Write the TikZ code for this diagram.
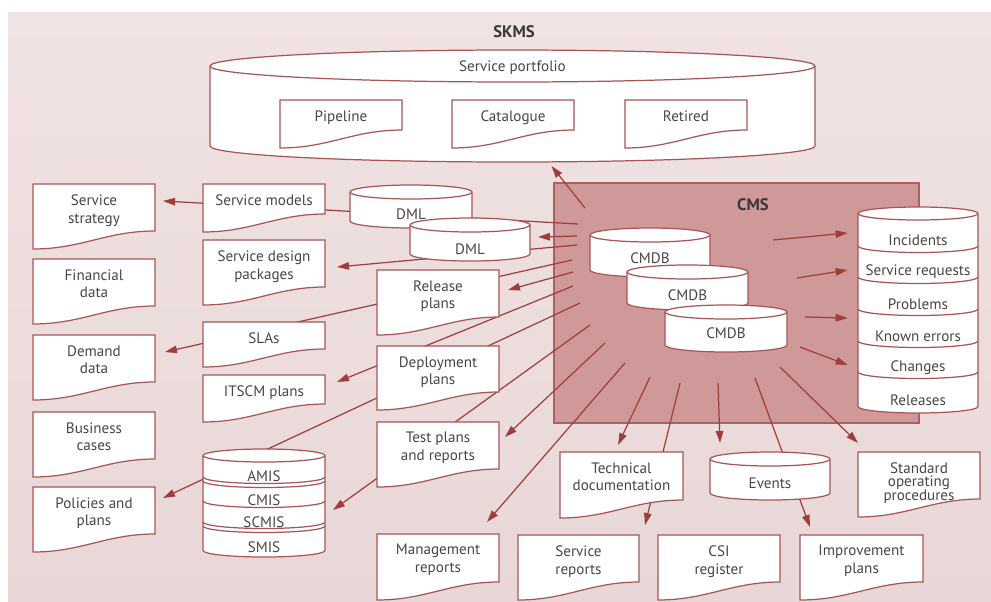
\documentclass[tikz,border=0pt]{standalone}
\usepackage{fontspec}
\setmainfont{PT Sans}
\usepackage{tikz}
\usetikzlibrary{arrows.meta,calc}

\definecolor{skmsbg}{RGB}{233,215,215}
\definecolor{skmstop}{RGB}{240,227,227}
\definecolor{cmsfill}{RGB}{207,153,153}
\definecolor{cmsline}{RGB}{175,95,95}
\definecolor{boxred}{RGB}{170,85,85}
\definecolor{wirered}{RGB}{160,62,62}
\definecolor{txtgray}{RGB}{75,68,68}

\pgfdeclarelayer{bg}
\pgfdeclarelayer{wires}
\pgfsetlayers{bg,wires,main}

\tikzset{
  boxline/.style={draw=boxred, fill=white, line width=0.7pt},
  hold/.style={inner sep=0pt, outer sep=0pt},
  lbl/.style={text=txtgray, font=\fontsize{8.6}{10.2}\selectfont, align=center, inner sep=0pt},
  head/.style={text=txtgray!80!black, font=\fontsize{9.5}{11}\selectfont\bfseries, inner sep=0pt},
  wire/.style={draw=wirered, line width=0.7pt},
  arr/.style={wire, -{Triangle[length=2.4mm,width=1.5mm]}},
}

% document shape: name, x0, y0, w, h, text
\newcommand{\docbox}[6]{%
  \filldraw[boxline] (#2,#3) -- ++(#4,0) -- ++(0,{#5-18})
    .. controls +({-0.4*#4},0) and +({0.4*#4},0) .. (#2,{#3+#5}) -- cycle;
  \node[hold, minimum width=#4*0.02cm, minimum height=#5*0.02cm, anchor=north west] (#1) at (#2,#3) {};
  \node[lbl, anchor=north] (#1-t) at ($(#1.north)+(0,10)$) {#6};
}
% cylinder body: name, x0, ytop, w, h, ry
\newcommand{\cylbody}[6]{%
  \filldraw[boxline] (#2,{#3+#6}) -- (#2,{#3+#5-#6})
    arc[start angle=180, end angle=0, x radius={#4/2}, y radius=#6]
    -- ({#2+#4},{#3+#6})
    arc[start angle=0, end angle=-180, x radius={#4/2}, y radius=#6] -- cycle;
  \draw[boxline, fill=none] (#2,{#3+#6}) arc[start angle=180, end angle=0, x radius={#4/2}, y radius=#6];
  \node[hold, minimum width=#4*0.02cm, minimum height=#5*0.02cm, anchor=north west] (#1) at (#2,#3) {};
}
% cylinder with text: name, x0, ytop, w, h, ry, text y, text
\newcommand{\cyl}[8]{%
  \cylbody{#1}{#2}{#3}{#4}{#5}{#6}
  \node[lbl] (#1-t) at ({#2+#4/2},#7) {#8};
}
% divider of a stack: x0, y, w, ry
\newcommand{\stacksep}[4]{%
  \draw[boxline, fill=none] (#1,#2) arc[start angle=180, end angle=0, x radius={#3/2}, y radius=#4];
}

\begin{document}
\begin{tikzpicture}[x=0.02cm, y=-0.02cm]
\useasboundingbox (0,0) rectangle (991,602);

\begin{pgfonlayer}{bg}
  \node[hold, top color=skmstop, bottom color=skmsbg, minimum width=983*0.02cm, minimum height=590*0.02cm, anchor=north west] (skms) at (8,12) {};
  \node[hold, fill=cmsfill, draw=cmsline, line width=0.7pt, minimum width=365*0.02cm, minimum height=240*0.02cm, anchor=north west] (cms) at (554,183) {};
\end{pgfonlayer}
\node[head] (skms-t) at (514,32) {SKMS};
\node[head] (cms-t) at (753,205) {CMS};

% service portfolio
\cyl{portfolio}{210}{50}{605}{112}{16}{68}{Service portfolio}
\docbox{pipe}{280}{100}{122}{48}{Pipeline}
\docbox{cat}{452}{100}{122}{48}{Catalogue}
\docbox{retired}{625}{100}{122}{48}{Retired}

% left columns
\docbox{strat}{33}{184}{122}{65}{Service\\strategy}
\docbox{fin}{33}{259}{122}{65}{Financial\\data}
\docbox{demand}{33}{335}{122}{65}{Demand\\data}
\docbox{business}{33}{412}{122}{65}{Business\\cases}
\docbox{policies}{33}{487}{122}{65}{Policies and\\plans}

\docbox{smodels}{203}{184}{122}{48}{Service models}
\docbox{sdp}{203}{240}{122}{65}{Service design\\packages}
\docbox{slas}{203}{322}{122}{45}{SLAs}
\docbox{itscm}{203}{375}{122}{47}{ITSCM plans}

\cylbody{dml1}{350}{185}{122}{43}{7}
\cyl{dml2}{410}{218}{120}{43}{7}{249}{DML}
\node[lbl] (dml1-t) at (411,214) {DML};

\docbox{release}{377}{270}{122}{65}{Release\\plans}
\docbox{deploy}{377}{346}{122}{64}{Deployment\\plans}
\docbox{test}{377}{422}{122}{65}{Test plans\\and reports}
\docbox{mgmt}{377}{534}{122}{66}{Management\\reports}

% AMIS stack
\cylbody{mis}{203}{449}{122}{108}{6.5}
\stacksep{203}{477}{122}{6.5}
\stacksep{203}{481}{122}{6.5}
\stacksep{203}{501}{122}{6.5}
\stacksep{203}{522}{122}{6.5}
\stacksep{203}{526}{122}{6.5}
\node[lbl] (amis) at (264,476) {AMIS};
\node[lbl] (cmis) at (264,500) {CMIS};
\node[lbl] (scmis) at (264,522) {SCMIS};
\node[lbl] (smis) at (264,547) {SMIS};

% CMDBs
\cyl{cmdb1}{590}{228}{120}{49}{7}{258}{CMDB}
\cyl{cmdb2}{627}{265}{121}{45}{7}{295}{CMDB}
\cyl{cmdb3}{665}{305}{122}{47}{7}{333}{CMDB}

% records stack
\cylbody{recs}{858}{207}{120}{206}{6.5}
\foreach \y in {246,277,309,341,372}
  \stacksep{858}{\y}{120}{6.5};
\node[lbl, minimum width=120*0.02cm] (inc) at (918,240) {Incidents};
\node[lbl, minimum width=120*0.02cm] (sreq) at (918,272) {Service requests};
\node[lbl, minimum width=120*0.02cm] (prob) at (918,304) {Problems};
\node[lbl, minimum width=120*0.02cm] (kerr) at (918,336) {Known errors};
\node[lbl, minimum width=120*0.02cm] (chg) at (918,368) {Changes};
\node[lbl, minimum width=120*0.02cm] (rel) at (918,400) {Releases};

% bottom row
\docbox{techdoc}{560}{452}{123}{66}{Technical\\documentation}
\cyl{events}{710}{452}{120}{48}{7}{483}{Events}
\docbox{sop}{858}{452}{122}{65}{Standard\\[-2.5pt]operating\\[-2.5pt]procedures}
\docbox{sreports}{518}{535}{121}{65}{Service\\reports}
\docbox{csi}{658}{535}{122}{65}{CSI\\register}
\docbox{improve}{800}{535}{123}{65}{Improvement\\plans}

% fan of links out of the CMS
\foreach \n/\x/\y in {f1/585/208, f2/578/224, f3/577/236, f4/577/245, f5/572/260,
    f6/573/272, f7/573/286, f8/580/303, f9/590/325, f10/605/343, f11/625/363,
    f12/650/377, f13/680/383, f14/718/383, f15/755/378, f16/780/367,
    f17/773/240, f18/797/278, f19/805/317, f20/800/347}
  \coordinate (\n) at (\x,\y);

\begin{pgfonlayer}{wires}
  \draw[arr] (f1) -- ($(portfolio.south)+(39,4)$);
  \draw[arr] (f2) -- ($(strat.north east)+(8,17)$);
  \draw[arr] (f3) -- ($(dml2.east)+(8,-2.5)$);
  \draw[arr] (f4) -- ($(sdp.north east)+(12,27)$);
  \draw[arr] (f5) -- ($(demand.north east)+(10,17)$);
  \draw[arr] (f6) -- ($(release.north east)+(9,20)$);
  \draw[arr] (f7) -- ($(itscm.north east)+(12,7)$);
  \draw[arr] (f8) -- ($(policies.north east)+(8,11)$);
  \draw[arr] (f9) -- ($(mis.east)+(8,7)$);
  \draw[arr] (f10) -- ($(test.north east)+(6,15)$);
  \draw[arr] (f11) -- ($(mgmt.north east)+(-12,-12)$);
  \draw[arr] (f12) -- ($(techdoc.north)+(-3.5,-7)$);
  \draw[arr] (f13) -- ($(sreports.north east)+(6,-10)$);
  \draw[arr] (f14) -- ($(events.north west)+(10,-9)$);
  \draw[arr] (f15) -- ($(improve.north west)+(10,-8)$);
  \draw[arr] (f16) -- ($(sop.north west)+(0,-9)$);
  \draw[arr] (f17) -- ($(inc.west)+(-10,-7)$);
  \draw[arr] (f18) -- ($(sreq.west)+(-10,-2)$);
  \draw[arr] (f19) -- ($(prob.west)+(-10,14)$);
  \draw[arr] (f20) -- ($(chg.west)+(-10,-3)$);
\end{pgfonlayer}
\end{tikzpicture}
\end{document}
